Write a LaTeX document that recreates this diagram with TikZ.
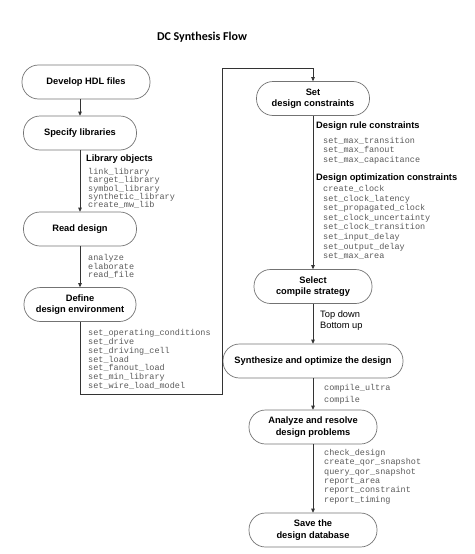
\documentclass[tikz,border=0pt]{standalone}
\usepackage{fontspec}
\setmainfont{Liberation Sans}
\newfontfamily\cmdfont{Liberation Mono}
\newfontfamily\titlefont{Carlito}
\usetikzlibrary{arrows.meta}
\tikzset{
  stage/.style={draw=black!55, line width=0.7pt, rounded corners=16.5pt, minimum height=34pt, inner sep=0pt, align=center, font=\bfseries\fontsize{9.3}{11.5}\selectfont},
  cmds/.style={anchor=west, inner sep=0pt, align=left, text=black!65, font=\cmdfont\fontsize{8.5}{#1}\selectfont},
  hdr/.style={anchor=west, inner sep=0pt, font=\bfseries\fontsize{9.3}{11}\selectfont},
  flow/.style={draw=black!80, line width=0.7pt, -{Triangle[length=4pt,width=3.6pt]}},
}

\begin{document}
\begin{tikzpicture}[x=1pt,y=-1pt]
	%%%%% START %%%%%
	\useasboundingbox (0,0) rectangle (474,554);
	
	\node[font=\titlefont\bfseries\fontsize{12}{14}\selectfont] (title) at (202,37) {DC Synthesis Flow};
	
	% left column
	\node[stage, minimum width=128pt] (hdl) at (86,82) {Develop HDL files};
	\node[stage, minimum width=113pt] (libs) at (80,133) {Specify libraries};
	\node[stage, minimum width=113pt] (read) at (80,229) {Read design};
	\node[stage, minimum width=112pt] (env) at (80,304.5) {Define\\design environment};
	
	% right column
	\node[stage, minimum width=113pt] (cons) at (313,98.5) {Set\\design constraints};
	\node[stage, minimum width=118pt] (strat) at (313,286.5) {Select\\compile strategy};
	\node[stage, minimum width=180pt] (synth) at (313,361) {Synthesize and optimize the design};
	\node[stage, minimum width=128pt] (check) at (313,427) {Analyze and resolve\\design problems};
	\node[stage, minimum width=128pt] (save) at (313,530) {Save the\\design database};
	
	% commands next to the flow
	\node[hdr] (libobj) at (86,159) {Library objects};
	\node[cmds=8.25] (libcmds) at (88,188.5) {link\_library\\target\_library\\symbol\_library\\synthetic\_library\\create\_mw\_lib};
	\node[cmds=8.5] (readcmds) at (88,266.5) {analyze\\elaborate\\read\_file};
	\node[cmds=8.83] (envcmds) at (88,359.5) {set\_operating\_conditions\\set\_drive\\set\_driving\_cell\\set\_load\\set\_fanout\_load\\set\_min\_library\\set\_wire\_load\_model};
	
	\node[hdr] (rulehdr) at (316,126) {Design rule constraints};
	\node[cmds=9.5] (rulecmds) at (323,150.5) {set\_max\_transition\\set\_max\_fanout\\set\_max\_capacitance};
	\node[hdr] (opthdr) at (316,178) {Design optimization constraints};
	\node[cmds=9.57] (optcmds) at (323,222.5) {create\_clock\\set\_clock\_latency\\set\_propagated\_clock\\set\_clock\_uncertainty\\set\_clock\_transition\\set\_input\_delay\\set\_output\_delay\\set\_max\_area};
	\node[anchor=west, inner sep=0pt, align=left, font=\fontsize{9.3}{11}\selectfont] (strategies) at (320,320.5) {Top down\\Bottom up};
	\node[cmds=12] (compcmds) at (324,394) {compile\_ultra\\compile};
	\node[cmds=9.4] (checkcmds) at (324,476.5) {check\_design\\create\_qor\_snapshot\\query\_qor\_snapshot\\report\_area\\report\_constraint\\report\_timing};
	
	% arrows
	\coordinate (turn) at (222,394);
	\coordinate (top) at (222,68);
	\draw[flow] (libs.north |- hdl.south) -- (libs.north);
	\draw[flow] (libs.south) -- (read.north);
	\draw[flow] (read.south) -- (env.north);
	\draw[flow] (env.south) |- (turn) -- (top) -| (cons.north);
	\draw[flow] (cons.south) -- (strat.north);
	\draw[flow] (strat.south) -- (synth.north);
	\draw[flow] (synth.south) -- (check.north);
	\draw[flow] (check.south) -- (save.north);
	
	%%%%% END %%%%%
\end{tikzpicture}
\end{document}
